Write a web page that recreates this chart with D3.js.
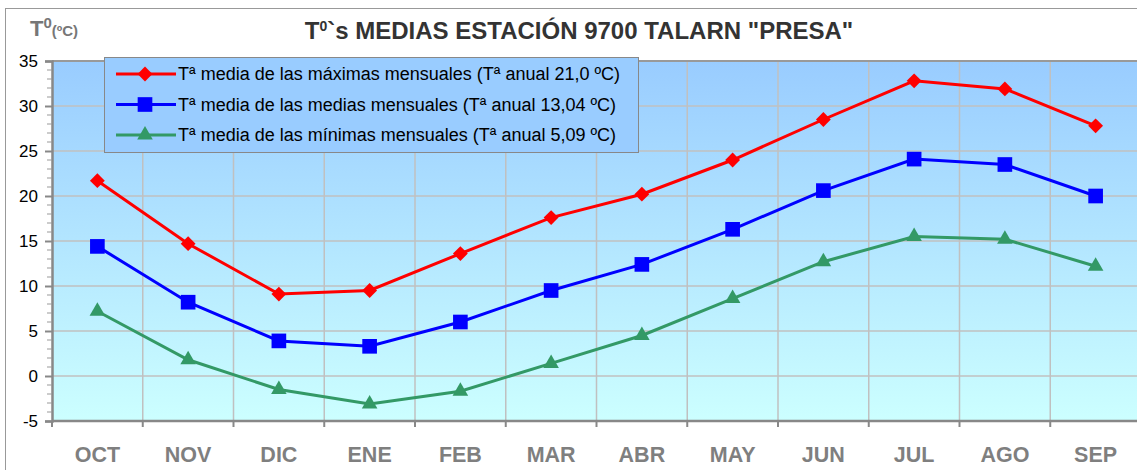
<!DOCTYPE html>
<html>
<head>
<meta charset="utf-8">
<script src="https://cdn.jsdelivr.net/npm/d3@7"></script>
<style>
  body { margin: 0; background: #fff; }
  svg { display: block; font-family: Arial, "Liberation Sans", sans-serif; }
</style>
</head>
<body>
<svg id="chart"></svg>
<script>
// months (Oct -> Sep, hydrological year)
var months = ["OCT", "NOV", "DIC", "ENE", "FEB", "MAR", "ABR", "MAY", "JUN", "JUL", "AGO", "SEP"];
var tMax = [21.7, 14.7, 9.1, 9.5, 13.6, 17.6, 20.2, 24.0, 28.5, 32.8, 31.9, 27.8];
var tMed = [14.4, 8.2, 3.9, 3.3, 6.0, 9.5, 12.4, 16.3, 20.6, 24.1, 23.5, 20.0];
var tMin = [7.2, 1.8, -1.5, -3.1, -1.7, 1.4, 4.5, 8.6, 12.7, 15.5, 15.2, 12.2];
var yTicks = [-5, 0, 5, 10, 15, 20, 25, 30, 35];
var seriesNames = [
  "Tª media de las máximas mensuales (Tª anual 21,0 ºC)",
  "Tª media de las medias mensuales (Tª anual 13,04 ºC)",
  "Tª media de las mínimas mensuales (Tª anual 5,09 ºC)"
];

var width = 1137, height = 470;
var left = 52, step = 90.75;

var svg = d3.select("#chart").attr("width", width).attr("height", height);

// outer frame
svg.append("rect").attr("x", 5.5).attr("y", 8.5).attr("width", width).attr("height", height)
  .attr("fill", "#fff").attr("stroke", "#999").attr("stroke-width", 1);

var defs = svg.append("defs");
var grad = defs.append("linearGradient").attr("id", "bg").attr("x1", 0).attr("y1", 0).attr("x2", 0).attr("y2", 1);
grad.append("stop").attr("offset", "0%").attr("stop-color", "#99ccff");
grad.append("stop").attr("offset", "100%").attr("stop-color", "#ccffff");

var x = d3.scaleBand().domain(months).range([left, left + 12 * step]);
var y = d3.scaleLinear().domain([-5, 35]).range([421, 61]);

// plot area
svg.append("rect").attr("x", left).attr("y", y(35)).attr("width", 12 * step).attr("height", y(-5) - y(35))
  .attr("fill", "url(#bg)");

// gridlines
svg.append("g").selectAll("line").data(yTicks.slice(1, -1)).enter().append("line")
  .attr("x1", left).attr("x2", width).attr("y1", function (d) { return y(d); }).attr("y2", function (d) { return y(d); })
  .attr("stroke", "#c0c0c0").attr("stroke-width", 1.5);
svg.append("g").selectAll("line").data(months.slice(1)).enter().append("line")
  .attr("x1", function (d) { return x(d); }).attr("x2", function (d) { return x(d); })
  .attr("y1", y(35)).attr("y2", y(-5))
  .attr("stroke", "#c0c0c0").attr("stroke-width", 1.5);

// top border of plot
svg.append("line").attr("x1", left).attr("x2", width).attr("y1", y(35)).attr("y2", y(35))
  .attr("stroke", "#999").attr("stroke-width", 2);

// y axis
var yAxis = d3.axisLeft(y).tickValues(yTicks).tickSize(7).tickPadding(7)
  .tickFormat(function (d) { return String(d); });
var ga = svg.append("g").attr("transform", "translate(" + left + ",0)").call(yAxis);
ga.select(".domain").attr("stroke", "#888").attr("stroke-width", 2.5);
ga.selectAll(".tick line").attr("stroke", "#888").attr("stroke-width", 2);
ga.selectAll("text").attr("font-size", 17).attr("fill", "#000").attr("font-family", "Arial, 'Liberation Sans', sans-serif");
// minor ticks
svg.append("g").selectAll("line").data(d3.range(-5, 35, 1).filter(function (d) { return d % 5 !== 0; })).enter().append("line")
  .attr("x1", left - 5).attr("x2", left)
  .attr("y1", function (d) { return y(d); }).attr("y2", function (d) { return y(d); })
  .attr("stroke", "#999").attr("stroke-width", 1);

// x axis
svg.append("line").attr("x1", left).attr("x2", width).attr("y1", y(-5)).attr("y2", y(-5))
  .attr("stroke", "#888").attr("stroke-width", 2.5);
svg.append("g").selectAll("line").data(months.concat(["end"])).enter().append("line")
  .attr("x1", function (d, i) { return left + i * x.step(); })
  .attr("x2", function (d, i) { return left + i * x.step(); })
  .attr("y1", y(-5)).attr("y2", y(-5) + 6)
  .attr("stroke", "#888").attr("stroke-width", 2);
svg.append("g").selectAll("text").data(months).enter().append("text")
  .attr("x", function (d) { return x(d) + x.bandwidth() / 2; })
  .attr("y", 462).attr("text-anchor", "middle")
  .attr("font-size", 21.5).attr("font-weight", "bold").attr("fill", "#7f7f7f")
  .text(function (d) { return d; });

// title
var title = svg.append("text").attr("x", 579).attr("y", 39).attr("text-anchor", "middle")
  .attr("font-size", 24).attr("font-weight", "bold").attr("fill", "#333");
title.append("tspan").text("T");
title.append("tspan").attr("font-size", 14).attr("dy", -8).text("0");
title.append("tspan").attr("dy", 8).text("`s MEDIAS ESTACIÓN 9700 TALARN \"PRESA\"");

// y axis title
var yt = svg.append("text").attr("x", 30).attr("y", 36).attr("font-weight", "bold").attr("fill", "#777").attr("font-size", 22);
yt.append("tspan").text("T");
yt.append("tspan").attr("font-size", 15).attr("dy", -8).text("0");
yt.append("tspan").attr("font-size", 15).attr("dy", 8).text("(ºC)");

// series
var series = [
  { name: seriesNames[0], values: tMax, color: "#ff0000", sym: d3.symbolSquare, size: 110, rot: 45 },
  { name: seriesNames[1], values: tMed, color: "#0000ff", sym: d3.symbolSquare, size: 215, rot: 0 },
  { name: seriesNames[2], values: tMin, color: "#339966", sym: d3.symbolTriangle, size: 105, rot: 0 }
];

var line = d3.line()
  .x(function (d, i) { return x(months[i]) + x.bandwidth() / 2; })
  .y(function (d) { return y(d); });

series.forEach(function (s) {
  svg.append("path").datum(s.values).attr("d", line)
    .attr("fill", "none").attr("stroke", s.color).attr("stroke-width", 3);
  svg.append("g").selectAll("path").data(s.values).enter().append("path")
    .attr("d", d3.symbol().type(s.sym).size(s.size))
    .attr("transform", function (d, i) {
      return "translate(" + (x(months[i]) + x.bandwidth() / 2) + "," + y(d) + ") rotate(" + s.rot + ")";
    })
    .attr("fill", s.color);
});

// legend
var lg = svg.append("g");
lg.append("rect").attr("x", 104.5).attr("y", 57.5).attr("width", 534).attr("height", 95)
  .attr("fill", "#99ccff").attr("stroke", "#888").attr("stroke-width", 1);
series.forEach(function (s, i) {
  var yy = 74 + i * 30.5;
  lg.append("line").attr("x1", 116).attr("x2", 176).attr("y1", yy).attr("y2", yy)
    .attr("stroke", s.color).attr("stroke-width", 3);
  lg.append("path").attr("d", d3.symbol().type(s.sym).size(s.size))
    .attr("transform", "translate(145," + yy + ") rotate(" + s.rot + ")").attr("fill", s.color);
  lg.append("text").attr("x", 178).attr("y", yy + 6).attr("font-size", 18).attr("fill", "#000")
    .text(s.name);
});
</script>
</body>
</html>
